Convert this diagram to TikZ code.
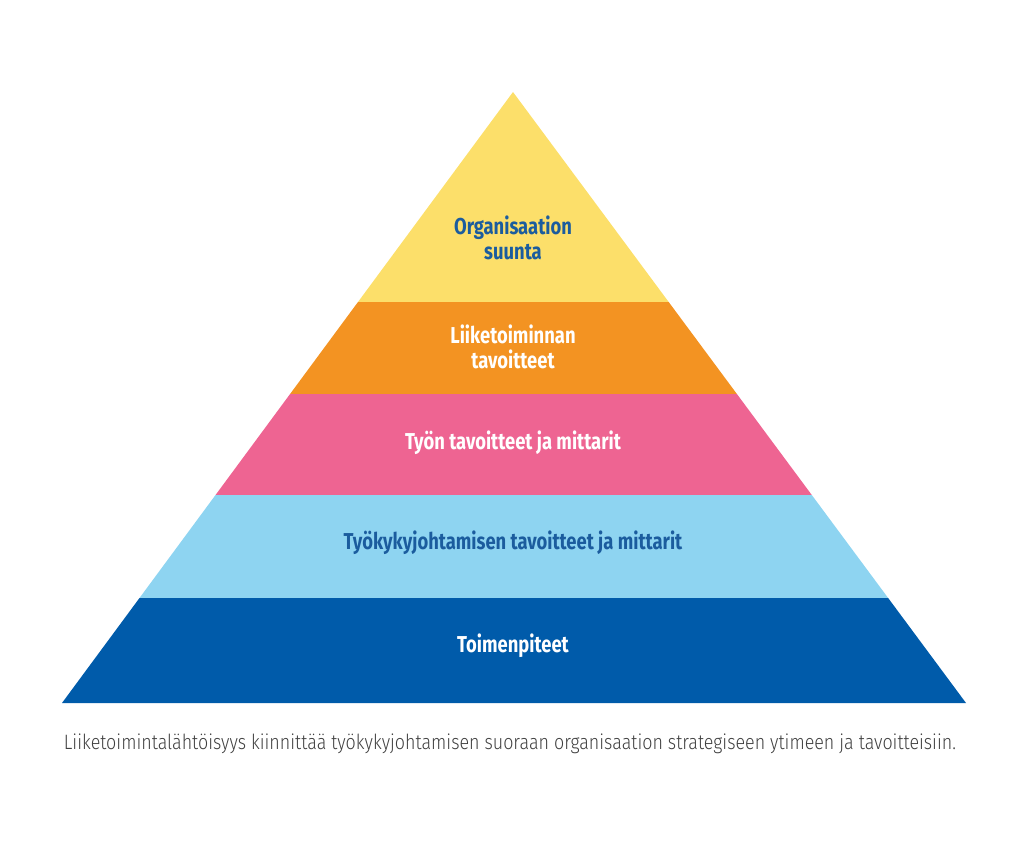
\documentclass[tikz,border=0pt]{standalone}
\usepackage{fontspec}
\setmainfont{Fira Sans}
\newfontfamily\bandfont[FakeStretch=0.8]{Fira Sans}
\newfontfamily\capfont[FakeStretch=0.86]{Fira Sans Light}
\usepackage{xcolor}
\usetikzlibrary{positioning,calc}
\definecolor{pyryellow}{HTML}{FCDF6A}
\definecolor{pyrorange}{HTML}{F39322}
\definecolor{pyrpink}{HTML}{EE6492}
\definecolor{pyrlight}{HTML}{8ED4F1}
\definecolor{pyrdark}{HTML}{005BAA}
\definecolor{labelblue}{HTML}{1B5C9E}
\definecolor{captiongray}{HTML}{404040}
\tikzset{
  label/.style={align=center, font=\bandfont\bfseries\fontsize{11.5}{12.5}\selectfont, inner sep=0pt},
  darklabel/.style={label, text=labelblue},
  lightlabel/.style={label, text=white},
  caption/.style={font=\capfont\fontsize{10.4}{12}\selectfont, text=captiongray, inner sep=0pt}}

\begin{document}
\begin{tikzpicture}[x=0.5pt, y=-0.5pt]
  \useasboundingbox (0,0) rectangle (1024,868);
  % pyramid outline and bands
  \coordinate (apex) at (513,92);
  \coordinate (bl) at (62,703);
  \coordinate (br) at (966,703);
  \begin{scope}
    \clip (apex) -- (bl) -- (br) -- cycle;
    \fill[pyryellow] (0,80) rectangle (1024,302);
    \fill[pyrorange] (0,302) rectangle (1024,394);
    \fill[pyrpink]   (0,394) rectangle (1024,495);
    \fill[pyrlight]  (0,495) rectangle (1024,598);
    \fill[pyrdark]   (0,598) rectangle (1024,704);
  \end{scope}
  % band texts
  \node[darklabel]  (suunta)   at (513,238) {Organisaation\\suunta};
  \node[lightlabel] (liike)    at (513,347) {Liiketoiminnan\\tavoitteet};
  \node[lightlabel] (tyon)     at (513,443) {Työn tavoitteet ja mittarit};
  \node[darklabel]  (tyokyky)  at (513,543) {Työkykyjohtamisen tavoitteet ja mittarit};
  \node[lightlabel] (toimet)   at (513,646) {Toimenpiteet};
  % caption
  \node[caption] (caption) at (510,744) {Liiketoimintalähtöisyys kiinnittää työkykyjohtamisen suoraan organisaation strategiseen ytimeen ja tavoitteisiin.};
\end{tikzpicture}
\end{document}
